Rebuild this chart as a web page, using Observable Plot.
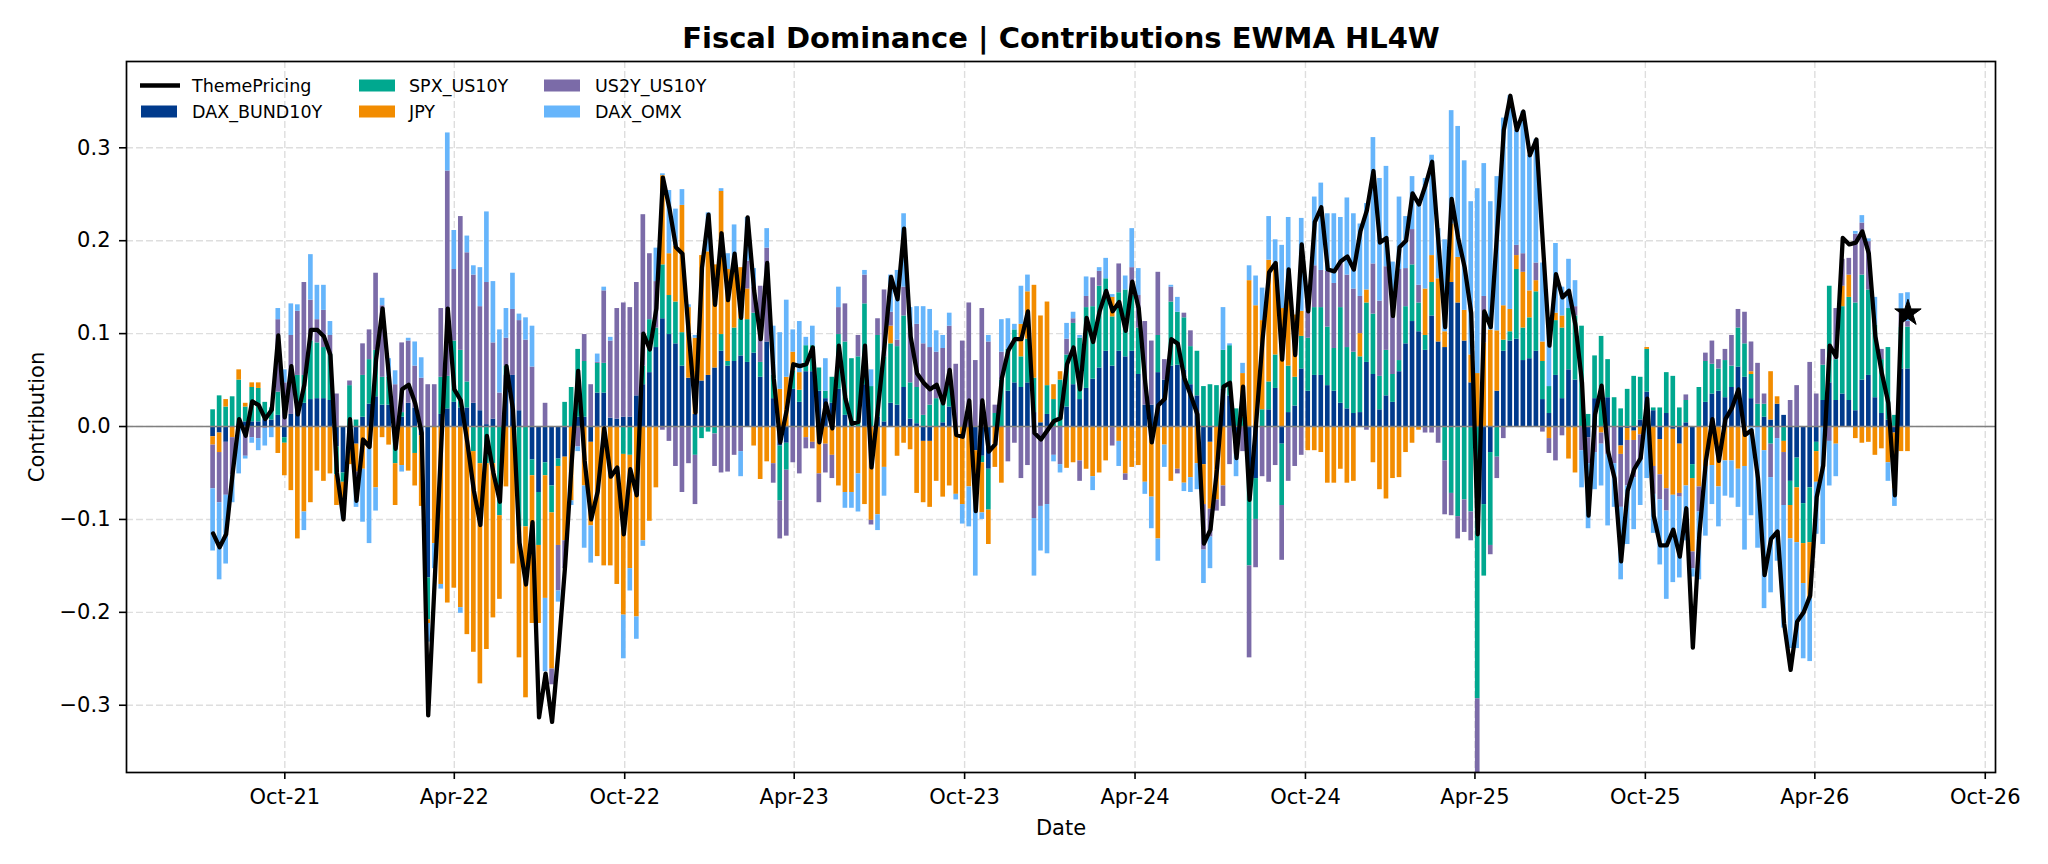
<!DOCTYPE html>
<html>
<head>
<meta charset="utf-8">
<script src="https://cdn.jsdelivr.net/npm/d3@7"></script>
<script src="https://cdn.jsdelivr.net/npm/@observablehq/plot@0.6"></script>
<style>
  html, body { margin: 0; padding: 0; background: #ffffff; }
  #chart { position: relative; width: 2048px; height: 864px; }
</style>
</head>
<body>
<div id="chart"></div>
<script>
// Weekly contributions (Fridays), first observation 2021-07-16
const firstWeek = "2021-07-16";

const seriesNames = ["DAX_BUND10Y", "SPX_US10Y", "JPY", "US2Y_US10Y", "DAX_OMX"];
const seriesColors = ["#003a8c", "#00a88f", "#f28c00", "#7b6ba8", "#66b5fb"];

const yTicks = [-0.3, -0.2, -0.1, 0.0, 0.1, 0.2, 0.3];
const xTickDates = ["2021-10-01", "2022-04-01", "2022-10-01", "2023-04-01", "2023-10-01", "2024-04-01",
                    "2024-10-01", "2025-04-01", "2025-10-01", "2026-04-01", "2026-10-01"];

const daxBund10y = [
  -0.011, -0.007, -0.017, 0.000, 0.003, 0.005, 0.005, 0.005, 0.008, 0.007,
  0.012, -0.012, 0.013, 0.020, 0.025, 0.029, 0.030, 0.030, 0.028, -0.022,
  -0.050, -0.020, -0.019, 0.010, 0.024, 0.032, 0.023, 0.023, 0.000, 0.010,
  0.025, 0.020, -0.010, -0.163, 0.000, 0.013, 0.019, 0.026, 0.020, 0.020,
  0.025, 0.017, 0.002, 0.008, 0.000, 0.055, 0.055, 0.017, 0.000, -0.036,
  -0.071, -0.039, -0.064, -0.035, -0.033, 0.000, 0.010, 0.010, -0.017, 0.036,
  0.036, 0.009, 0.008, 0.010, 0.010, 0.033, 0.045, 0.058, 0.085, 0.116,
  0.099, 0.089, 0.065, 0.052, 0.013, 0.049, 0.055, 0.063, 0.081, 0.065,
  0.070, 0.076, 0.069, 0.079, 0.053, 0.091, 0.030, -0.021, -0.018, 0.040,
  0.026, 0.059, 0.059, 0.038, 0.030, 0.025, 0.040, 0.012, 0.000, 0.000,
  0.045, 0.000, 0.010, 0.005, 0.025, 0.023, 0.042, 0.008, 0.003, -0.016,
  -0.016, 0.000, 0.004, 0.021, 0.000, 0.000, 0.000, -0.026, -0.032, -0.046,
  0.000, 0.000, 0.038, 0.047, 0.042, 0.047, 0.015, 0.004, 0.013, 0.000,
  0.000, 0.021, 0.045, 0.029, 0.041, 0.051, 0.063, 0.081, 0.065, 0.081,
  0.075, 0.081, 0.056, 0.023, 0.023, 0.058, 0.050, 0.065, 0.066, 0.061,
  0.045, 0.033, -0.041, -0.017, 0.000, 0.040, 0.033, -0.010, 0.000, -0.056,
  -0.056, 0.000, 0.018, 0.041, -0.019, 0.015, 0.022, 0.062, 0.038, 0.055,
  0.055, 0.044, 0.038, 0.025, 0.019, 0.014, 0.015, 0.069, 0.056, 0.018,
  0.033, 0.026, 0.059, 0.089, 0.113, 0.102, 0.082, 0.119, 0.091, 0.085,
  0.155, 0.133, 0.092, 0.047, 0.000, -0.084, -0.028, 0.038, 0.081, 0.092,
  0.094, 0.071, 0.073, 0.081, 0.029, 0.014, 0.055, 0.030, 0.061, 0.050,
  0.000, -0.012, 0.030, 0.000, 0.031, 0.000, -0.021, -0.002, -0.005, 0.007,
  0.037, 0.017, -0.014, 0.014, -0.003, -0.019, 0.004, -0.041, 0.000, 0.026,
  0.035, 0.038, 0.031, 0.042, 0.064, 0.053, 0.030, 0.000, 0.010, 0.007,
  0.024, 0.012, -0.059, -0.034, -0.083, -0.066, -0.017, 0.028, 0.047, 0.028,
  0.035, 0.028, 0.017, 0.050, 0.055, 0.031, 0.014, 0.007, -0.007, 0.062,
  0.062
];

const spxUs10y = [
  0.018, 0.033, 0.021, 0.032, 0.047, 0.016, 0.037, 0.036, 0.018, 0.013,
  0.025, -0.006, 0.000, 0.035, 0.030, 0.063, 0.060, 0.055, 0.050, -0.030,
  -0.010, 0.044, 0.007, 0.045, 0.048, 0.050, 0.030, 0.030, -0.040, 0.005,
  0.000, -0.029, 0.000, -0.045, 0.000, 0.040, 0.035, 0.066, 0.062, 0.028,
  -0.027, -0.040, -0.040, -0.040, -0.096, 0.010, 0.000, -0.108, -0.108, -0.017,
  -0.057, -0.014, -0.029, -0.008, 0.026, 0.042, 0.073, 0.060, 0.000, 0.032,
  0.032, 0.000, 0.000, -0.030, -0.031, 0.000, 0.020, 0.057, 0.021, 0.058,
  0.042, 0.045, 0.036, 0.000, -0.031, -0.013, -0.006, -0.008, 0.018, 0.005,
  0.036, 0.040, 0.046, 0.043, 0.016, 0.000, 0.025, -0.059, -0.029, 0.020,
  0.013, 0.028, 0.028, 0.025, 0.008, 0.028, 0.059, 0.079, 0.073, 0.075,
  0.087, 0.043, 0.088, 0.070, 0.064, 0.063, 0.077, 0.039, 0.039, 0.012,
  0.023, 0.030, 0.021, 0.030, 0.000, 0.000, 0.000, 0.000, -0.007, -0.044,
  0.014, 0.050, 0.045, 0.057, 0.033, 0.047, 0.037, 0.000, 0.031, 0.029,
  0.050, 0.056, 0.066, 0.066, 0.087, 0.078, 0.088, 0.078, 0.053, 0.063,
  0.072, 0.060, 0.050, 0.000, 0.000, 0.040, 0.000, 0.069, 0.057, 0.056,
  0.041, 0.048, 0.043, 0.045, 0.044, 0.042, 0.054, 0.019, 0.010, -0.094,
  -0.044, 0.018, 0.030, 0.036, -0.066, 0.050, 0.031, 0.035, 0.057, 0.073,
  0.073, 0.063, 0.046, 0.103, 0.066, 0.066, 0.060, 0.064, 0.065, 0.036,
  0.049, 0.030, 0.012, 0.040, 0.061, 0.031, 0.016, 0.036, 0.000, -0.037,
  -0.072, -0.097, -0.079, -0.092, -0.293, -0.077, -0.100, -0.033, 0.012, 0.010,
  0.075, 0.035, 0.044, 0.064, 0.041, 0.029, 0.059, 0.076, 0.066, 0.069,
  0.108, 0.013, 0.046, 0.097, 0.041, 0.031, 0.019, 0.040, 0.054, 0.046,
  0.046, 0.003, 0.020, 0.044, 0.054, 0.020, 0.024, -0.015, 0.042, 0.044,
  0.032, 0.024, 0.040, 0.023, 0.042, 0.036, 0.026, 0.024, 0.014, -0.019,
  0.000, -0.016, -0.026, -0.032, -0.043, -0.059, -0.010, 0.038, 0.104, 0.044,
  0.094, 0.111, 0.116, 0.113, 0.092, 0.078, 0.058, 0.078, 0.012, 0.045,
  0.045
];

const jpy = [
  -0.009, -0.021, 0.008, -0.012, 0.011, 0.004, 0.005, 0.006, 0.000, 0.000,
  -0.029, -0.035, -0.069, -0.121, -0.092, -0.082, -0.048, -0.059, -0.051, -0.033,
  -0.020, -0.021, -0.030, -0.046, -0.024, -0.066, -0.012, -0.020, -0.045, -0.042,
  -0.048, -0.035, -0.076, -0.004, -0.126, -0.170, -0.190, -0.174, -0.195, -0.224,
  -0.216, -0.237, -0.200, -0.166, -0.090, -0.065, -0.148, -0.141, -0.184, -0.159,
  -0.084, -0.132, -0.168, -0.085, -0.090, -0.080, 0.000, -0.064, -0.090, -0.140,
  -0.150, -0.150, -0.170, -0.173, -0.122, -0.205, -0.123, -0.102, -0.066, 0.096,
  0.045, 0.060, 0.137, 0.076, 0.082, 0.135, 0.133, 0.111, 0.154, 0.099,
  0.060, 0.055, 0.033, -0.021, -0.057, -0.038, -0.040, 0.040, 0.053, 0.020,
  0.019, -0.012, -0.017, -0.051, -0.019, -0.031, -0.064, -0.071, -0.071, -0.051,
  -0.084, -0.101, -0.095, -0.044, 0.019, -0.032, -0.018, -0.025, -0.072, -0.066,
  -0.071, -0.059, -0.076, -0.064, -0.073, -0.084, -0.065, -0.040, -0.054, -0.037,
  -0.044, -0.061, 0.000, 0.000, 0.035, 0.051, 0.100, 0.115, 0.090, 0.016,
  0.009, -0.045, -0.039, -0.037, -0.046, -0.054, -0.050, -0.037, 0.021, -0.016,
  -0.051, -0.044, -0.042, -0.060, -0.076, -0.121, -0.020, -0.059, -0.046, -0.061,
  -0.055, -0.040, -0.043, -0.072, -0.079, -0.064, 0.000, 0.000, 0.047, 0.157,
  0.130, 0.096, 0.131, 0.099, 0.127, 0.090, 0.067, 0.027, -0.026, -0.026,
  -0.028, -0.061, -0.061, -0.046, -0.061, -0.059, 0.025, 0.014, -0.039, -0.068,
  -0.078, -0.056, -0.055, -0.028, -0.018, -0.004, 0.050, 0.029, 0.068, 0.017,
  0.063, 0.049, 0.033, 0.030, 0.057, 0.090, 0.104, 0.065, 0.037, 0.024,
  0.015, 0.060, 0.029, 0.012, 0.021, -0.013, 0.008, 0.013, -0.035, -0.050,
  0.000, 0.000, 0.000, -0.007, 0.000, 0.000, -0.009, -0.013, -0.010, -0.009,
  0.002, -0.043, -0.038, -0.067, -0.071, -0.053, -0.064, -0.079, -0.065, -0.043,
  -0.042, -0.065, -0.037, -0.037, -0.046, -0.043, 0.003, 0.000, -0.026, 0.052,
  0.008, -0.012, -0.036, -0.059, -0.043, -0.060, -0.033, 0.000, 0.000, -0.019,
  0.022, 0.024, -0.013, -0.018, -0.017, -0.031, -0.024, -0.039, -0.060, -0.027,
  -0.027
];

const us2yUs10y = [
  -0.047, -0.054, -0.057, -0.040, 0.000, -0.032, -0.012, -0.013, -0.002, 0.000,
  0.078, 0.047, 0.085, 0.069, 0.100, 0.044, 0.025, 0.040, 0.020, 0.035,
  -0.010, 0.005, -0.010, 0.034, 0.032, 0.083, 0.077, 0.000, 0.045, 0.075,
  0.067, 0.045, 0.052, 0.045, 0.045, 0.074, 0.221, 0.077, 0.144, 0.139,
  0.138, 0.112, 0.153, 0.082, 0.036, 0.030, 0.071, 0.097, 0.093, 0.064,
  0.000, 0.025, -0.017, -0.049, -0.030, 0.000, -0.022, 0.029, 0.045, 0.001,
  0.078, 0.083, 0.119, 0.123, 0.118, 0.122, 0.163, 0.071, 0.050, -0.004,
  -0.016, -0.043, -0.071, -0.040, -0.053, 0.000, 0.000, -0.035, -0.050, -0.049,
  -0.031, -0.027, 0.030, 0.028, 0.082, 0.101, -0.021, -0.041, -0.071, -0.039,
  -0.051, -0.012, -0.007, -0.031, -0.031, -0.025, 0.029, 0.041, 0.000, 0.023,
  0.031, -0.005, 0.018, 0.072, 0.015, 0.007, 0.031, 0.060, 0.068, 0.077,
  0.062, 0.050, 0.059, 0.057, 0.067, 0.092, 0.133, 0.071, 0.127, 0.091,
  0.009, 0.030, -0.038, -0.018, -0.056, -0.042, -0.099, -0.086, -0.084, -0.031,
  -0.041, 0.017, 0.005, -0.022, 0.012, 0.031, 0.016, 0.000, -0.021, 0.031,
  -0.007, 0.030, 0.035, 0.090, 0.069, 0.068, 0.022, 0.016, -0.005, 0.005,
  0.017, 0.000, -0.049, -0.030, -0.012, -0.022, -0.041, -0.020, -0.027, -0.099,
  -0.052, -0.054, -0.060, -0.042, -0.059, -0.059, -0.043, -0.031, 0.055, 0.045,
  0.040, 0.060, 0.070, 0.050, 0.078, 0.068, 0.040, -0.004, 0.054, 0.081,
  0.090, 0.080, 0.098, 0.041, 0.038, 0.019, -0.007, -0.007, -0.018, -0.058,
  -0.024, -0.024, -0.035, -0.031, -0.090, 0.050, -0.010, -0.023, -0.013, 0.000,
  0.011, 0.020, 0.000, 0.019, -0.006, -0.016, -0.037, -0.010, 0.000, 0.010,
  -0.026, -0.028, -0.028, -0.012, -0.030, -0.040, -0.057, -0.049, -0.040, -0.027,
  0.000, -0.030, -0.027, -0.024, 0.000, -0.004, 0.006, -0.018, -0.027, 0.009,
  0.025, 0.010, 0.012, 0.033, 0.020, 0.034, 0.032, 0.044, 0.011, -0.036,
  -0.013, -0.057, 0.028, 0.044, 0.000, 0.069, 0.035, 0.017, -0.016, 0.055,
  0.029, 0.018, 0.074, 0.056, 0.052, 0.000, 0.011, 0.000, 0.000, 0.018,
  0.006
];

const daxOmx = [
  -0.067, -0.083, -0.074, -0.030, -0.051, -0.003, -0.006, -0.013, -0.019, -0.012,
  0.012, 0.014, 0.034, 0.007, -0.020, 0.049, 0.037, 0.027, 0.015, 0.000,
  -0.010, 0.000, -0.028, -0.057, -0.102, -0.025, 0.008, 0.020, 0.015, -0.007,
  0.003, 0.026, 0.022, -0.020, -0.027, -0.005, 0.041, 0.042, -0.006, 0.018,
  0.010, 0.042, 0.076, 0.066, 0.068, 0.032, 0.039, 0.007, 0.024, 0.044,
  0.000, -0.079, 0.000, -0.012, 0.000, -0.005, -0.005, -0.067, -0.040, 0.009,
  0.004, 0.004, 0.000, -0.047, -0.024, -0.024, -0.006, 0.000, 0.036, 0.002,
  0.068, 0.040, 0.017, 0.003, 0.003, 0.000, 0.042, 0.000, 0.003, 0.017,
  0.051, -0.027, 0.047, 0.020, 0.000, 0.021, 0.053, 0.061, 0.083, 0.024,
  0.055, 0.009, 0.021, 0.000, 0.035, 0.000, 0.022, -0.017, -0.017, -0.041,
  0.005, 0.018, -0.017, -0.031, 0.040, 0.075, 0.079, 0.021, 0.019, 0.040,
  0.041, 0.023, 0.014, 0.014, -0.006, -0.021, -0.043, -0.095, -0.007, 0.007,
  0.000, 0.035, 0.033, 0.006, 0.041, 0.018, -0.062, -0.048, -0.053, -0.007,
  -0.009, 0.017, 0.007, 0.003, 0.021, -0.015, 0.004, 0.022, 0.003, -0.027,
  0.015, 0.042, 0.029, -0.013, -0.034, -0.024, -0.024, 0.002, 0.016, -0.009,
  -0.016, -0.028, -0.036, -0.034, 0.000, 0.046, 0.002, -0.024, 0.011, 0.016,
  0.032, 0.035, 0.047, 0.025, 0.068, 0.070, 0.000, 0.100, 0.000, 0.074,
  0.094, 0.062, 0.075, 0.047, 0.083, 0.081, 0.078, 0.093, 0.136, 0.132,
  0.108, 0.041, 0.078, 0.056, 0.057, 0.091, 0.119, 0.108, 0.054, 0.099,
  0.122, 0.141, 0.161, 0.165, 0.199, 0.143, 0.138, 0.166, 0.202, 0.230,
  0.124, 0.153, 0.146, 0.133, 0.085, 0.060, 0.075, 0.031, 0.053, 0.028,
  -0.040, -0.070, -0.040, -0.045, -0.077, -0.047, -0.078, -0.063, -0.056, -0.049,
  -0.056, -0.042, -0.070, -0.095, -0.094, -0.087, -0.059, -0.009, -0.073, -0.075,
  -0.042, -0.043, -0.038, -0.040, -0.041, -0.090, -0.096, -0.131, -0.170, -0.124,
  -0.132, -0.132, -0.118, -0.114, -0.081, -0.068, -0.056, -0.127, -0.048, -0.035,
  0.000, 0.000, 0.003, 0.008, 0.003, 0.030, 0.000, -0.020, -0.019, 0.018,
  0.031
];

const themePricing = [
  -0.115, -0.130, -0.116, -0.050, 0.008, -0.010, 0.027, 0.023, 0.008, 0.018,
  0.098, 0.010, 0.065, 0.013, 0.045, 0.104, 0.104, 0.097, 0.077, -0.050,
  -0.100, 0.008, -0.080, -0.014, -0.022, 0.072, 0.127, 0.052, -0.024, 0.040,
  0.045, 0.025, -0.007, -0.311, -0.165, -0.020, 0.127, 0.040, 0.028, -0.017,
  -0.069, -0.106, -0.010, -0.050, -0.081, 0.065, 0.018, -0.125, -0.170, -0.103,
  -0.313, -0.266, -0.318, -0.240, -0.150, -0.040, 0.060, -0.037, -0.100, -0.070,
  -0.002, -0.054, -0.044, -0.116, -0.046, -0.074, 0.100, 0.083, 0.127, 0.268,
  0.235, 0.193, 0.186, 0.097, 0.015, 0.171, 0.228, 0.131, 0.208, 0.136,
  0.186, 0.117, 0.225, 0.146, 0.094, 0.176, 0.052, -0.017, 0.018, 0.067,
  0.065, 0.067, 0.085, -0.017, 0.025, -0.002, 0.087, 0.030, 0.003, 0.005,
  0.087, -0.044, 0.020, 0.087, 0.161, 0.137, 0.213, 0.097, 0.057, 0.047,
  0.040, 0.045, 0.025, 0.061, -0.009, -0.011, 0.028, -0.091, 0.028, -0.027,
  -0.019, 0.052, 0.082, 0.094, 0.094, 0.124, -0.007, -0.014, -0.004, 0.006,
  0.009, 0.067, 0.085, 0.040, 0.117, 0.091, 0.124, 0.146, 0.124, 0.134,
  0.103, 0.156, 0.127, 0.047, -0.017, 0.023, 0.030, 0.094, 0.089, 0.052,
  0.033, 0.013, -0.126, -0.111, -0.046, 0.043, 0.047, -0.034, 0.043, -0.079,
  0.003, 0.094, 0.166, 0.176, 0.072, 0.169, 0.077, 0.196, 0.124, 0.220,
  0.236, 0.169, 0.167, 0.178, 0.183, 0.169, 0.210, 0.233, 0.275, 0.198,
  0.203, 0.119, 0.193, 0.200, 0.251, 0.239, 0.260, 0.285, 0.196, 0.107,
  0.245, 0.203, 0.171, 0.122, -0.116, 0.124, 0.107, 0.211, 0.319, 0.356,
  0.319, 0.339, 0.292, 0.309, 0.196, 0.087, 0.164, 0.139, 0.146, 0.109,
  0.047, -0.096, 0.013, 0.044, -0.027, -0.056, -0.145, -0.069, -0.046, -0.034,
  0.030, -0.096, -0.128, -0.128, -0.111, -0.140, -0.088, -0.238, -0.116, -0.037,
  0.008, -0.037, 0.008, 0.020, 0.040, -0.009, -0.004, -0.056, -0.160, -0.121,
  -0.113, -0.212, -0.262, -0.210, -0.200, -0.182, -0.076, -0.042, 0.087, 0.075,
  0.203, 0.196, 0.198, 0.210, 0.186, 0.097, 0.057, 0.025, -0.074, 0.124,
  0.122
];

// ---- tables built from the arrays above ----
const start = new Date(firstWeek + "T00:00:00Z");
const dates = themePricing.map((_, i) => d3.utcDay.offset(start, 7 * i));
const contributions = [daxBund10y, spxUs10y, jpy, us2yUs10y, daxOmx];

const barRows = [];
dates.forEach((d, i) => {
  const x1 = d3.utcHour.offset(d, -60);   // bars are 5 days wide, centred on the date
  const x2 = d3.utcHour.offset(d, 60);
  seriesNames.forEach((name, k) => {
    barRows.push({x1, x2, series: name, value: contributions[k][i]});
  });
});

const lineRows = dates.map((date, i) => ({date, value: themePricing[i]}));
const lastPoint = lineRows[lineRows.length - 1];
const xTicks = xTickDates.map(s => new Date(s + "T00:00:00Z"));

const FONT = "'DejaVu Sans', 'Liberation Sans', sans-serif";

const svg = Plot.plot({
  width: 2048,
  height: 864,
  marginLeft: 126,
  marginRight: 53,
  marginTop: 61,
  marginBottom: 92,
  style: {fontFamily: FONT, background: "#ffffff", color: "#000000", overflow: "visible"},
  x: {type: "utc", domain: [new Date("2021-04-14T00:00:00Z"), new Date("2026-10-12T00:00:00Z")]},
  y: {domain: [-0.3724, 0.3929]},
  color: {domain: seriesNames, range: seriesColors},
  marks: [
    Plot.gridY(yTicks, {stroke: "#dedede", strokeOpacity: 1, strokeWidth: 1.4, strokeDasharray: "7,3"}),
    Plot.gridX(xTicks, {stroke: "#dedede", strokeOpacity: 1, strokeWidth: 1.4, strokeDasharray: "7,3"}),
    Plot.rectY(barRows, Plot.stackY({x1: "x1", x2: "x2", y: "value", fill: "series", clip: true})),
    Plot.ruleY([0], {stroke: "#808080", strokeWidth: 1.7}),
    Plot.line(lineRows, {x: "date", y: "value", stroke: "#000000", strokeWidth: 4.3,
                         strokeLinejoin: "round", strokeLinecap: "round", clip: true}),
    Plot.dot([lastPoint], {x: "date", y: "value", symbol: "star", r: 8.3, fill: "#000000", stroke: "#000000", strokeWidth: 1}),
    Plot.frame({stroke: "#000000", strokeWidth: 1.7}),
    Plot.axisY(yTicks, {tickFormat: d3.format(".1f"), tickSize: 7, tickPadding: 9, fontSize: 21, strokeWidth: 1.6, label: null}),
    Plot.axisX(xTicks, {tickFormat: d3.utcFormat("%b-%y"), tickSize: 7, tickPadding: 10, fontSize: 21, strokeWidth: 1.6, label: null}),
    Plot.text(["Fiscal Dominance | Contributions EWMA HL4W"], {text: d => d, frameAnchor: "top", dy: -22.3,
      textAnchor: "middle", lineAnchor: "middle", fontSize: 29, fontWeight: "bold"}),
    Plot.text(["Date"], {text: d => d, frameAnchor: "bottom", dy: 55.3,
      textAnchor: "middle", lineAnchor: "middle", fontSize: 21}),
    Plot.text(["Contribution"], {text: d => d, frameAnchor: "left", dx: -89.7, rotate: -90,
      textAnchor: "middle", lineAnchor: "middle", fontSize: 21})
  ]
});

// ---- legend (three columns, two rows) in the upper-left corner of the axes ----
const legendItems = [
  {label: "ThemePricing", kind: "line", color: "#000000", col: 0, row: 0},
  {label: "DAX_BUND10Y", kind: "rect", color: seriesColors[0], col: 0, row: 1},
  {label: "SPX_US10Y", kind: "rect", color: seriesColors[1], col: 1, row: 0},
  {label: "JPY", kind: "rect", color: seriesColors[2], col: 1, row: 1},
  {label: "US2Y_US10Y", kind: "rect", color: seriesColors[3], col: 2, row: 0},
  {label: "DAX_OMX", kind: "rect", color: seriesColors[4], col: 2, row: 1}
];
const colHandleX = [141, 359, 544];
const colTextX = [192, 409, 595];
const rowY = [85.5, 111.5];

const legend = d3.select(svg).append("g")
  .attr("font-family", FONT)
  .attr("font-size", 17.5)
  .attr("text-anchor", "start")
  .attr("fill", "#000000");

legendItems.forEach(item => {
  const x = colHandleX[item.col];
  const y = rowY[item.row];
  if (item.kind === "line") {
    legend.append("line")
      .attr("x1", x - 1).attr("x2", x + 39)
      .attr("y1", y).attr("y2", y)
      .attr("stroke", item.color).attr("stroke-width", 4.5);
  } else {
    legend.append("rect")
      .attr("x", x).attr("y", y - 6)
      .attr("width", 36).attr("height", 12)
      .attr("fill", item.color);
  }
  legend.append("text")
    .attr("x", colTextX[item.col]).attr("y", y)
    .attr("dy", "0.36em")
    .attr("text-anchor", "start")
    .text(item.label);
});

document.getElementById("chart").appendChild(svg);
</script>
</body>
</html>
